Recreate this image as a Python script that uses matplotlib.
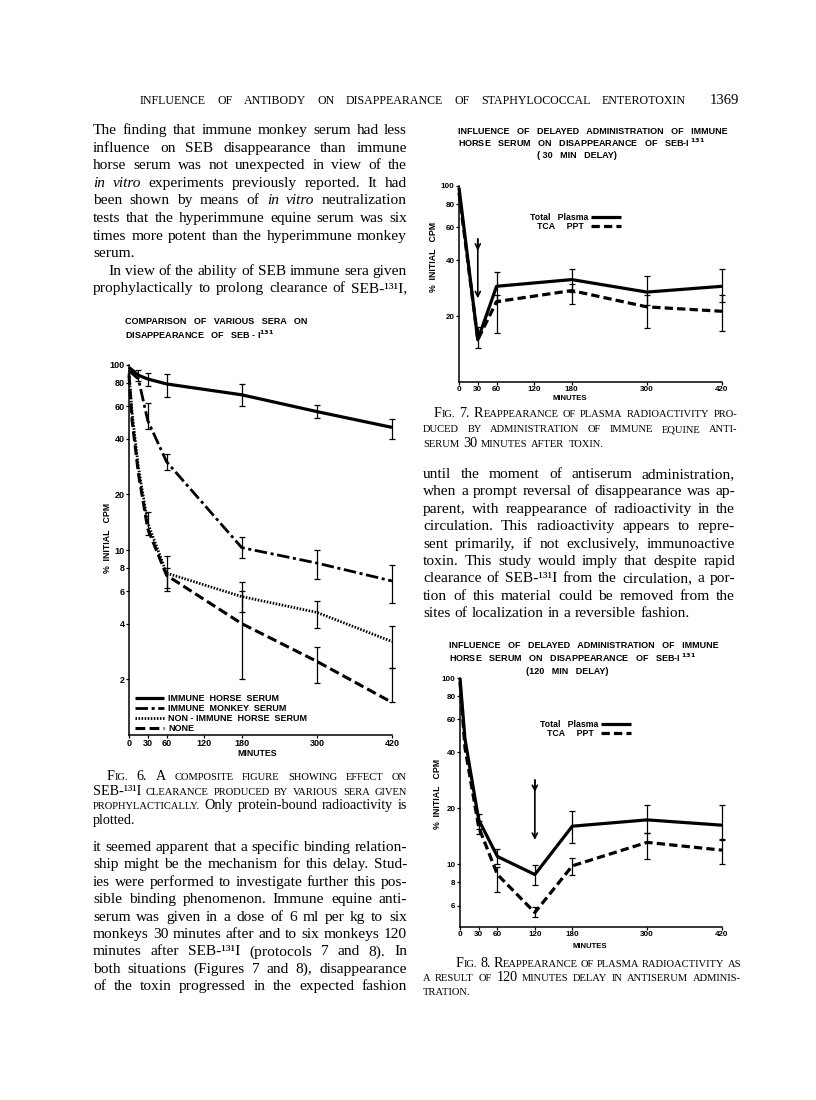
import matplotlib
matplotlib.use("Agg")
import matplotlib.pyplot as plt
import matplotlib.transforms as mtransforms
from matplotlib.ticker import NullLocator

W, H = 816, 1100
SERIF = "Liberation Serif"
SANS = "Liberation Sans"

# ---------------- data ----------------
x_ticks = [0, 30, 60, 120, 180, 300, 420]

# Fig. 6  (% initial cpm)
t6 = [0, 5, 15, 30, 60, 180, 300, 420]
horse6 = [97, 94, 88, 84, 79, 69, 56, 46]
monkey6 = [93, 90, 84, 50, 30, 10.3, 8.5, 6.8]
nonimm6 = [90, 55, 28, 14, 7.5, 5.6, 4.6, 3.2]
none6 = [88, 50, 26, 13, 7.3, 4.0, 2.5, 1.5]
horse6_err_t = [15, 30, 60, 180, 300, 420]
horse6_lo = [82, 77, 67, 60, 52, 40]
horse6_hi = [94, 90, 89, 79, 61, 51]
monkey6_err_t = [30, 60, 180, 300, 420]
monkey6_lo = [45, 27, 9.0, 7.0, 5.2]
monkey6_hi = [62, 33, 11.8, 10, 8.3]
nonimm6_err_t = [30, 60, 180, 300, 420]
nonimm6_lo = [12, 6.0, 4.6, 3.8, 2.3]
nonimm6_hi = [16, 9.3, 6.7, 5.3, 3.9]
none6_err_t = [60, 180, 300, 420]
none6_lo = [6.2, 2.0, 1.9, 1.5]
none6_hi = [8.0, 6.0, 3.0, 2.3]
labels6 = ["IMMUNE  HORSE  SERUM", "IMMUNE  MONKEY  SERUM",
           "NON - IMMUNE  HORSE  SERUM", "NONE"]
yticks6 = [100, 80, 60, 40, 20, 10, 8, 6, 4, 2]

# Fig. 7  (30 min delay)
t7 = [0, 30, 60, 180, 300, 420]
total7 = [98, 15, 29, 31.5, 27, 29]
tca7 = [92, 15, 24, 27.5, 22.5, 21.3]
total7_err_t = [30, 60, 180, 300, 420]
total7_lo = [13.5, 24, 27, 23, 24]
total7_hi = [17.5, 34.5, 36, 33, 36]
tca7_err_t = [60, 180, 300, 420]
tca7_lo = [16.3, 23.4, 17.4, 16.6]
tca7_hi = [26, 30, 26, 26]
arrow7 = (30, 52, 45, 25)  # x, tail, upper head, lower head
yticks7 = [100, 80, 60, 40, 20]

# Fig. 8  (120 min delay)
t8 = [0, 8, 30, 60, 120, 180, 300, 420]
total8 = [100, 47, 17.3, 11, 8.8, 16, 17.3, 16.2]
tca8 = [95, 42, 15.8, 8.8, 5.5, 9.8, 13.1, 11.9]
total8_err_t = [30, 60, 120, 180, 300, 420]
total8_lo = [15.5, 10, 7.7, 13, 14.8, 13.5]
total8_hi = [18.5, 12.0, 9.9, 19.2, 20.8, 20.7]
tca8_err_t = [30, 60, 120, 180, 300, 420]
tca8_lo = [14.5, 7.1, 5.2, 8.8, 10.6, 10]
tca8_hi = [17, 9.7, 5.9, 10.8, 14.7, 13.6]
arrow8 = (120, 28.3, 24.4, 13.5)
yticks8 = [100, 80, 60, 40, 20, 10, 8, 6]

# ---------------- page text ----------------
header = "INFLUENCE OF ANTIBODY ON DISAPPEARANCE OF STAPHYLOCOCCAL ENTEROTOXIN"
page_no = "1369"
left_top = [
    "The finding that immune monkey serum had less",
    "influence on SEB disappearance than immune",
    "horse serum was not unexpected in view of the",
    "*in vitro* experiments previously reported.  It had",
    "been shown by means of *in vitro* neutralization",
    "tests that the hyperimmune equine serum was six",
    "times more potent than the hyperimmune monkey",
    "serum.",
    "In view of the ability of SEB immune sera given",
    "prophylactically to prolong clearance of SEB-¹³¹I,",
]
cap6 = [
    "F{ig.} 6.  A {composite figure showing effect on}",
    "SEB-¹³¹I {clearance produced by various sera given}",
    "{prophylactically.}  Only protein-bound radioactivity is",
    "plotted.",
]
left_bottom = [
    "it seemed apparent that a specific binding relation-",
    "ship might be the mechanism for this delay.  Stud-",
    "ies were performed to investigate further this pos-",
    "sible binding phenomenon.  Immune equine anti-",
    "serum was given in a dose of 6 ml per kg to six",
    "monkeys 30 minutes after and to six monkeys 120",
    "minutes after SEB-¹³¹I (protocols 7 and 8).  In",
    "both situations (Figures 7 and 8), disappearance",
    "of the toxin progressed in the expected fashion",
]
cap7 = [
    "F{ig.} 7.  R{eappearance of plasma radioactivity pro-}",
    "{duced by administration of immune equine anti-}",
    "{serum} 30 {minutes after toxin.}",
]
right_body = [
    "until the moment of antiserum administration,",
    "when a prompt reversal of disappearance was ap-",
    "parent, with reappearance of radioactivity in the",
    "circulation.  This radioactivity appears to repre-",
    "sent primarily, if not exclusively, immunoactive",
    "toxin.  This study would imply that despite rapid",
    "clearance of SEB-¹³¹I from the circulation, a por-",
    "tion of this material could be removed from the",
    "sites of localization in a reversible fashion.",
]
cap8 = [
    "F{ig.} 8.  R{eappearance of plasma radioactivity as}",
    "{a result of} 120 {minutes delay in antiserum adminis-}",
    "{tration.}",
]

plt.rcParams["font.family"] = SANS
plt.rcParams["font.weight"] = "bold"

fig = plt.figure(figsize=(W / 100, H / 100), dpi=100)
fig.patch.set_facecolor("white")
# pixel coordinates, origin at top-left
T = mtransforms.Affine2D().scale(1 / W, -1 / H).translate(0, 1) + fig.transFigure
renderer = fig.canvas.get_renderer()


def parse(line):
    # {..} = small caps, *..* = italic
    words, cur, sc, it = [], [], False, False
    for ch in line:
        if ch == "{":
            sc = True
            continue
        if ch == "}":
            sc = False
            continue
        if ch == "*":
            it = not it
            continue
        if ch == " ":
            if cur:
                words.append(cur)
                cur = []
            continue
        small = sc and not ch.isupper() and not ch.isdigit()
        c = ch.upper() if small else ch
        if cur and cur[-1][1] == small and cur[-1][2] == it:
            cur[-1][0] += c
        else:
            cur.append([c, small, it])
    if cur:
        words.append(cur)
    return words


def put_line(x0, x1, y, line, size, justify=True):
    items = []
    for w in parse(line):
        ts = []
        for s, small, it in w:
            t = fig.text(0, 0, s, transform=T, family=SERIF, weight="normal",
                         fontsize=size * 0.74 if small else size,
                         style="italic" if it else "normal",
                         va="baseline", ha="left")
            ts.append((t, t.get_window_extent(renderer).width))
        items.append(ts)
    total = sum(wd for ts in items for _, wd in ts)
    n = len(items)
    gap = size * 100 / 72 * 0.27
    if justify and n > 1:
        gap = (x1 - x0 - total) / (n - 1)
    x = x0
    for ts in items:
        for t, wd in ts:
            t.set_position((x, y))
            x += wd
        x += gap


def put_block(lines, x0, x1, y0, dy, size, first_x=None, last_free=(), indent_rows=()):
    for i, line in enumerate(lines):
        xs = x0
        if i == 0 and first_x is not None:
            xs = first_x
        if i in indent_rows:
            xs = x0 + 15
        put_line(xs, x1, y0 + i * dy + 4, line, size, justify=i not in last_free)


# header
put_line(140, 686, 104, header, 8.6)
fig.text(710, 104, page_no, transform=T, family=SERIF, weight="normal",
         fontsize=10.5, va="baseline")

put_block(left_top, 93, 407, 130, 17.6, 11.1, last_free=(7,), indent_rows=(8,))
put_block(cap6, 93, 407, 776, 14.6, 10.2, first_x=107, last_free=(3,))
put_block(left_bottom, 93, 407, 847, 17.4, 11.1)
put_block(cap7, 423, 737, 413, 15, 10.2, first_x=434, last_free=(2,))
put_block(right_body, 423, 735, 474, 17.4, 11.1, last_free=(8,))
put_block(cap8, 423, 741, 963, 14, 10.2, first_x=456, last_free=(2,))


def ax_at(l, t, r, b):
    return fig.add_axes([l / W, 1 - b / H, (r - l) / W, (b - t) / H])


def style_ax(ax, yticks, ylim, size):
    ax.set_yscale("log")
    ax.set_ylim(*ylim)
    ax.set_xlim(0, 420)
    ax.set_yticks(yticks)
    ax.set_yticklabels([str(v) for v in yticks])
    ax.yaxis.set_minor_locator(NullLocator())
    ax.set_xticks(x_ticks)
    ax.set_xticklabels([str(v) for v in x_ticks])
    ax.patch.set_alpha(0)
    for s in ("top", "right"):
        ax.spines[s].set_visible(False)
    for s in ("left", "bottom"):
        ax.spines[s].set_linewidth(1.1)
    ax.tick_params(axis="y", length=2.2, width=0.9, pad=1.0, labelsize=size)
    ax.tick_params(axis="x", length=2.2, width=0.9, pad=0.8, labelsize=size)


def bars(ax, t, lo, hi):
    ax.errorbar(t, lo, yerr=[[0] * len(lo), [h - l for h, l in zip(hi, lo)]],
                fmt="none", ecolor="black", elinewidth=0.9, capsize=2.2,
                capthick=0.9, clip_on=False)


def arrow(ax, a):
    x, tail, head1, head2 = a
    for head in (head2, head1):
        ax.annotate("", xy=(x, head), xytext=(x, tail),
                    arrowprops=dict(arrowstyle="->", lw=1.2, color="black",
                                    shrinkA=0, shrinkB=0, mutation_scale=9))


def titles(lines, x, ys, center_x):
    for i, (s, y) in enumerate(zip(lines, ys)):
        if i < 2:
            fig.text(x, y, s, transform=T, fontsize=6.5, va="center", ha="left")
        else:
            fig.text(center_x, y, s, transform=T, fontsize=6.5, va="center", ha="center")


def ylabel(x, y):
    fig.text(x, y, "%  INITIAL   CPM", transform=T, fontsize=6.3, rotation=90,
             va="center", ha="center")


st = dict(color="black", clip_on=False, solid_capstyle="butt", dash_capstyle="butt")

# ---------------- Fig. 6 ----------------
ax6 = ax_at(129, 365, 392, 735)
style_ax(ax6, yticks6, (1.0, 100), 6.5)
l1, = ax6.plot(t6, horse6, lw=2.3, **st)
l2, = ax6.plot(t6, monkey6, lw=2.0, dashes=(4.5, 1.3, 1.1, 1.3), **st)
l3, = ax6.plot(t6, nonimm6, lw=2.0, dashes=(0.55, 0.55), **st)
l4, = ax6.plot(t6, none6, lw=2.2, dashes=(3.2, 1.4), **st)
bars(ax6, horse6_err_t, horse6_lo, horse6_hi)
bars(ax6, monkey6_err_t, monkey6_lo, monkey6_hi)
bars(ax6, nonimm6_err_t, nonimm6_lo, nonimm6_hi)
bars(ax6, none6_err_t, none6_lo, none6_hi)
ax6.legend([l1, l2, l3, l4], labels6, loc="upper left", bbox_to_anchor=(135, 694),
           bbox_transform=T, frameon=False, fontsize=6.5, handlelength=3.2,
           handletextpad=0.5, labelspacing=0.1, borderpad=0, borderaxespad=0)
titles(["COMPARISON   OF   VARIOUS   SERA   ON",
        "DISAPPEARANCE   OF   SEB - I$^{131}$"], 125, [322, 335], 0)
ylabel(108, 538)
fig.text(257, 754, "MINUTES", transform=T, fontsize=6.3, va="center", ha="center")

# ---------------- Fig. 7 ----------------
ax7 = ax_at(459, 186, 722, 382)
style_ax(ax7, yticks7, (8.9, 100), 5.8)
m1, = ax7.plot(t7, total7, lw=2.3, **st)
m2, = ax7.plot(t7, tca7, lw=2.3, dashes=(2.6, 1.3), **st)
bars(ax7, total7_err_t, total7_lo, total7_hi)
bars(ax7, tca7_err_t, tca7_lo, tca7_hi)
arrow(ax7, arrow7)
ax7.legend([m1, m2], ["Total   Plasma", "TCA     PPT  "], loc="upper right",
           bbox_to_anchor=(621, 213), bbox_transform=T, frameon=False,
           fontsize=6.3, markerfirst=False, handlelength=3.4, handletextpad=0.3,
           labelspacing=0.05, borderpad=0, borderaxespad=0)
titles(["INFLUENCE   OF   DELAYED   ADMINISTRATION   OF   IMMUNE",
        "HORSE   SERUM   ON   DISAPPEARANCE   OF   SEB-I $^{131}$",
        "( 30   MIN   DELAY)"], 458, [132, 143, 155], 577)
ylabel(433, 257)
fig.text(570, 398, "MINUTES", transform=T, fontsize=5.6, va="center", ha="center")

# ---------------- Fig. 8 ----------------
ax8 = ax_at(460, 678, 722, 927)
style_ax(ax8, yticks8, (4.6, 100), 5.8)
n1, = ax8.plot(t8, total8, lw=2.3, **st)
n2, = ax8.plot(t8, tca8, lw=2.3, dashes=(2.6, 1.3), **st)
bars(ax8, total8_err_t, total8_lo, total8_hi)
bars(ax8, tca8_err_t, tca8_lo, tca8_hi)
arrow(ax8, arrow8)
ax8.legend([n1, n2], ["Total   Plasma", "TCA     PPT  "], loc="upper right",
           bbox_to_anchor=(631, 720), bbox_transform=T, frameon=False,
           fontsize=6.3, markerfirst=False, handlelength=3.4, handletextpad=0.3,
           labelspacing=0.0, borderpad=0, borderaxespad=0)
titles(["INFLUENCE   OF   DELAYED   ADMINISTRATION   OF   IMMUNE",
        "HORSE   SERUM   ON   DISAPPEARANCE   OF   SEB-I $^{131}$",
        "(120   MIN   DELAY)"], 449, [646, 658, 672], 567)
ylabel(437, 794)
fig.text(590, 946, "MINUTES", transform=T, fontsize=5.6, va="center", ha="center")

fig.savefig("out.png", dpi=100, facecolor="white")
